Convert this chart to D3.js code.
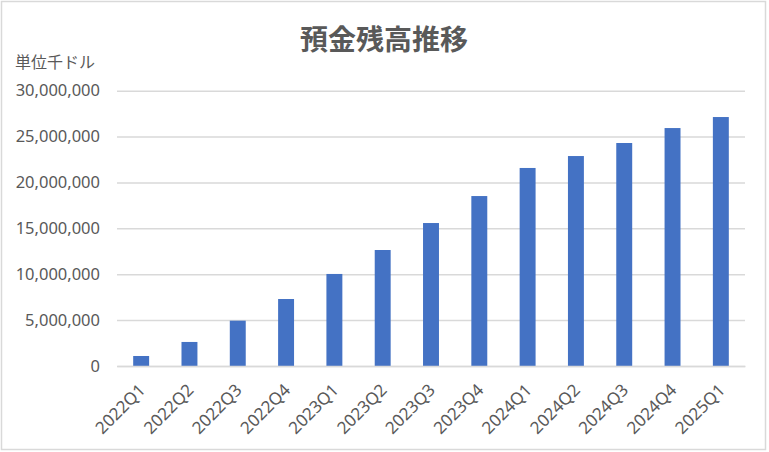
<!DOCTYPE html>
<html><head><meta charset="utf-8">
<script src="https://cdn.jsdelivr.net/npm/d3@7"></script>
<style>body{margin:0;background:#fff}svg{display:block}text{font-family:"Noto Sans","Noto Sans CJK JP",sans-serif;fill:#595959}</style>
</head><body>
<script>
const categories = ["2022Q1","2022Q2","2022Q3","2022Q4","2023Q1","2023Q2","2023Q3","2023Q4","2024Q1","2024Q2","2024Q3","2024Q4","2025Q1"];
const values = [1090000,2620000,4940000,7300000,10030000,12640000,15580000,18520000,21580000,22880000,24300000,25930000,27130000];
const yTicks = [0,5000000,10000000,15000000,20000000,25000000,30000000];
const title = "預金残高推移";
const unitLabel = "単位千ドル";

(function(){
const W=769,H=452;
const svg=d3.select("body").append("svg").attr("width",W).attr("height",H);
svg.append("rect").attr("x",1.5).attr("y",1.5).attr("width",764).attr("height",448).attr("fill","#fff").attr("stroke","#d9d9d9").attr("stroke-width",1.5);

const pl=117,pr=745,pt=90.7,pb=366;
const x=d3.scaleBand().domain(categories).range([pl,pr]).paddingInner(0.67).paddingOuter(0.335);
const y=d3.scaleLinear().domain([0,30000000]).range([pb,pt]);

const grid=svg.append("g").attr("transform",`translate(${pl},0)`)
 .call(d3.axisLeft(y).tickValues(yTicks).tickSize(-(pr-pl)).tickFormat(d3.format(",")));
grid.select(".domain").remove();
grid.selectAll(".tick line").attr("stroke","#d9d9d9").attr("stroke-width",1.5);
grid.selectAll(".tick text").attr("x",-17).attr("font-size",16.5).attr("fill","#595959").style("font-family","'Noto Sans',sans-serif");

svg.append("g").selectAll("rect").data(values).join("rect")
 .attr("x",(d,i)=>x(categories[i])).attr("width",x.bandwidth())
 .attr("y",d=>y(d)).attr("height",d=>y(0)-y(d)).attr("fill","#4472c4");

const xa=svg.append("g").attr("transform",`translate(0,${pb})`).call(d3.axisBottom(x).tickSize(0));
xa.select(".domain").attr("stroke","#d9d9d9").attr("stroke-width",1.5);
xa.selectAll(".tick text").attr("font-size",17).attr("fill","#595959").style("font-family","'Noto Sans',sans-serif")
 .attr("text-anchor","end").attr("transform","translate(1,21) rotate(-45)").attr("x",0).attr("y",0).attr("dy","0.35em");

svg.append("text").attr("x",384).attr("y",50).attr("text-anchor","middle").attr("font-size",28).attr("font-weight","bold").text(title);
svg.append("text").attr("x",15).attr("y",68).attr("font-size",16).text(unitLabel);
})();
</script>
</body></html>
